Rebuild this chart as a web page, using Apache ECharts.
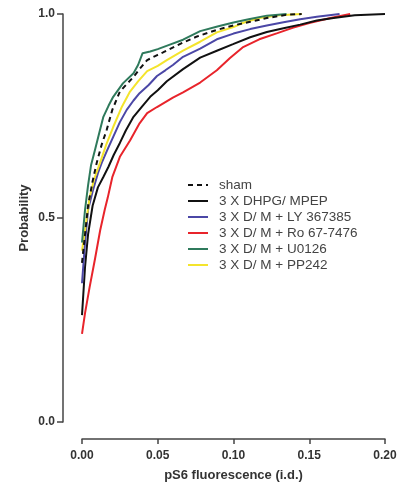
<!DOCTYPE html>
<html>
<head>
<meta charset="utf-8">
<script src="https://cdn.jsdelivr.net/npm/echarts@6/dist/echarts.min.js"></script>
<style>html,body{margin:0;padding:0;background:#fff}#c{width:406px;height:493px}</style>
</head>
<body>
<div id="c"></div>
<script>
// Series names (legend order)
const seriesNames = ['sham', '3 X DHPG/ MPEP', '3 X D/ M + LY 367385', '3 X D/ M + Ro 67-7476', '3 X D/ M + U0126', '3 X D/ M + PP242'];
// Axis ticks
const xTicks = [0.00, 0.05, 0.10, 0.15, 0.20];
const yTicks = [0.0, 0.5, 1.0];
// Cumulative probability curves [pS6 fluorescence, probability]
const sham = [[0,0.39],[0.002,0.46],[0.004,0.53],[0.007,0.59],[0.0097,0.635],[0.013,0.68],[0.0163,0.716],[0.02,0.765],[0.025,0.81],[0.03,0.83],[0.034,0.846],[0.038,0.865],[0.043,0.887],[0.05,0.9],[0.0535,0.906],[0.0667,0.93],[0.076,0.945],[0.089,0.961],[0.1,0.972],[0.111,0.981],[0.122,0.99],[0.135,0.998],[0.145,1.0]];
const dhpg = [[0,0.262],[0.002,0.38],[0.004,0.46],[0.007,0.53],[0.0105,0.575],[0.014,0.6],[0.0174,0.625],[0.021,0.655],[0.025,0.684],[0.029,0.715],[0.034,0.748],[0.04,0.775],[0.045,0.797],[0.05,0.813],[0.056,0.835],[0.0667,0.865],[0.078,0.893],[0.089,0.91],[0.0997,0.926],[0.111,0.943],[0.122,0.956],[0.133,0.965],[0.144,0.974],[0.155,0.984],[0.166,0.99],[0.18,0.997],[0.2,1.0]];
const ly = [[0,0.34],[0.002,0.44],[0.004,0.52],[0.007,0.565],[0.0105,0.61],[0.013,0.635],[0.0165,0.665],[0.0206,0.699],[0.025,0.735],[0.0295,0.765],[0.034,0.788],[0.038,0.806],[0.044,0.826],[0.0495,0.848],[0.055,0.862],[0.06,0.875],[0.0667,0.895],[0.078,0.915],[0.089,0.938],[0.1,0.952],[0.111,0.963],[0.122,0.972],[0.133,0.98],[0.144,0.987],[0.155,0.993],[0.17,1.0]];
const ro = [[0,0.216],[0.002,0.267],[0.005,0.33],[0.0086,0.40],[0.012,0.47],[0.015,0.52],[0.017,0.55],[0.02,0.6],[0.025,0.65],[0.0317,0.69],[0.038,0.732],[0.043,0.757],[0.0495,0.772],[0.06,0.795],[0.0667,0.808],[0.078,0.832],[0.089,0.862],[0.0977,0.892],[0.106,0.918],[0.117,0.938],[0.129,0.953],[0.139,0.966],[0.15,0.978],[0.164,0.99],[0.177,1.0]];
const u0126 = [[0,0.44],[0.002,0.52],[0.004,0.58],[0.006,0.63],[0.0086,0.667],[0.0115,0.71],[0.0141,0.748],[0.0175,0.775],[0.0206,0.797],[0.027,0.83],[0.034,0.855],[0.037,0.875],[0.04,0.904],[0.045,0.908],[0.05,0.914],[0.058,0.925],[0.0667,0.937],[0.078,0.958],[0.09,0.97],[0.1,0.979],[0.11,0.987],[0.122,0.996],[0.135,1.0]];
const pp242 = [[0,0.42],[0.002,0.47],[0.005,0.55],[0.008,0.595],[0.0119,0.635],[0.016,0.68],[0.0206,0.723],[0.026,0.77],[0.0317,0.81],[0.037,0.835],[0.043,0.86],[0.05,0.873],[0.056,0.887],[0.0667,0.91],[0.078,0.932],[0.089,0.955],[0.1,0.968],[0.106,0.978],[0.117,0.99],[0.13,0.997],[0.145,1.0]];

const colors = {sham:'#111111', dhpg:'#111111', ly:'#4b47a6', ro:'#e8242b', u0126:'#2f7a5c', pp242:'#f4e42c'};

function mk(name, data, color, type, z) {
  return {name, type:'line', data, showSymbol:false, symbol:'none', z,
    lineStyle:{color, width:2, type}, itemStyle:{color}, animation:false};
}

const font = 'Liberation Sans, Arial, sans-serif';
const chart = echarts.init(document.getElementById('c'));
chart.setOption({
  animation:false,
  grid:{left:82, right:21, top:14, bottom:71},
  legend:{
    orient:'vertical', left:182, top:173, itemWidth:20, itemHeight:14, itemGap:2,
    data:seriesNames,
    itemStyle:{color:'rgba(0,0,0,0)', borderWidth:0, opacity:0},
    textStyle:{fontFamily:font, fontSize:13.5, color:'#444', padding:[0,0,0,6]}
  },
  xAxis:{
    type:'value', min:0, max:0.2, interval:0.05, offset:17,
    axisLine:{show:true, onZero:false, lineStyle:{color:'#444', width:1.5}},
    axisTick:{show:true, length:5, lineStyle:{color:'#444', width:1.5}},
    splitLine:{show:false},
    axisLabel:{fontFamily:font, fontWeight:'bold', fontSize:12, color:'#333', margin:11,
      formatter:v=>v.toFixed(2)},
    name:'pS6 fluorescence (i.d.)', nameLocation:'middle', nameGap:30, nameMoveOverlap:false,
    nameTextStyle:{fontFamily:font, fontWeight:'bold', fontSize:13, color:'#333'}
  },
  yAxis:{
    type:'value', min:0, max:1, interval:0.5, offset:19,
    axisLine:{show:true, onZero:false, lineStyle:{color:'#444', width:1.5}},
    axisTick:{show:true, length:6, lineStyle:{color:'#444', width:1.5}},
    splitLine:{show:false},
    axisLabel:{fontFamily:font, fontWeight:'bold', fontSize:12, color:'#333', margin:8,
      formatter:v=>v.toFixed(1)},
    name:'Probability', nameLocation:'middle', nameGap:32, nameMoveOverlap:false,
    nameTextStyle:{fontFamily:font, fontWeight:'bold', fontSize:13, color:'#333'}
  },
  series:[
    mk(seriesNames[3], ro, colors.ro, 'solid', 2),
    mk(seriesNames[1], dhpg, colors.dhpg, 'solid', 3),
    mk(seriesNames[2], ly, colors.ly, 'solid', 4),
    mk(seriesNames[5], pp242, colors.pp242, 'solid', 5),
    mk(seriesNames[4], u0126, colors.u0126, 'solid', 6),
    mk(seriesNames[0], sham, colors.sham, [5,4], 7)
  ]
});
</script>
</body>
</html>
